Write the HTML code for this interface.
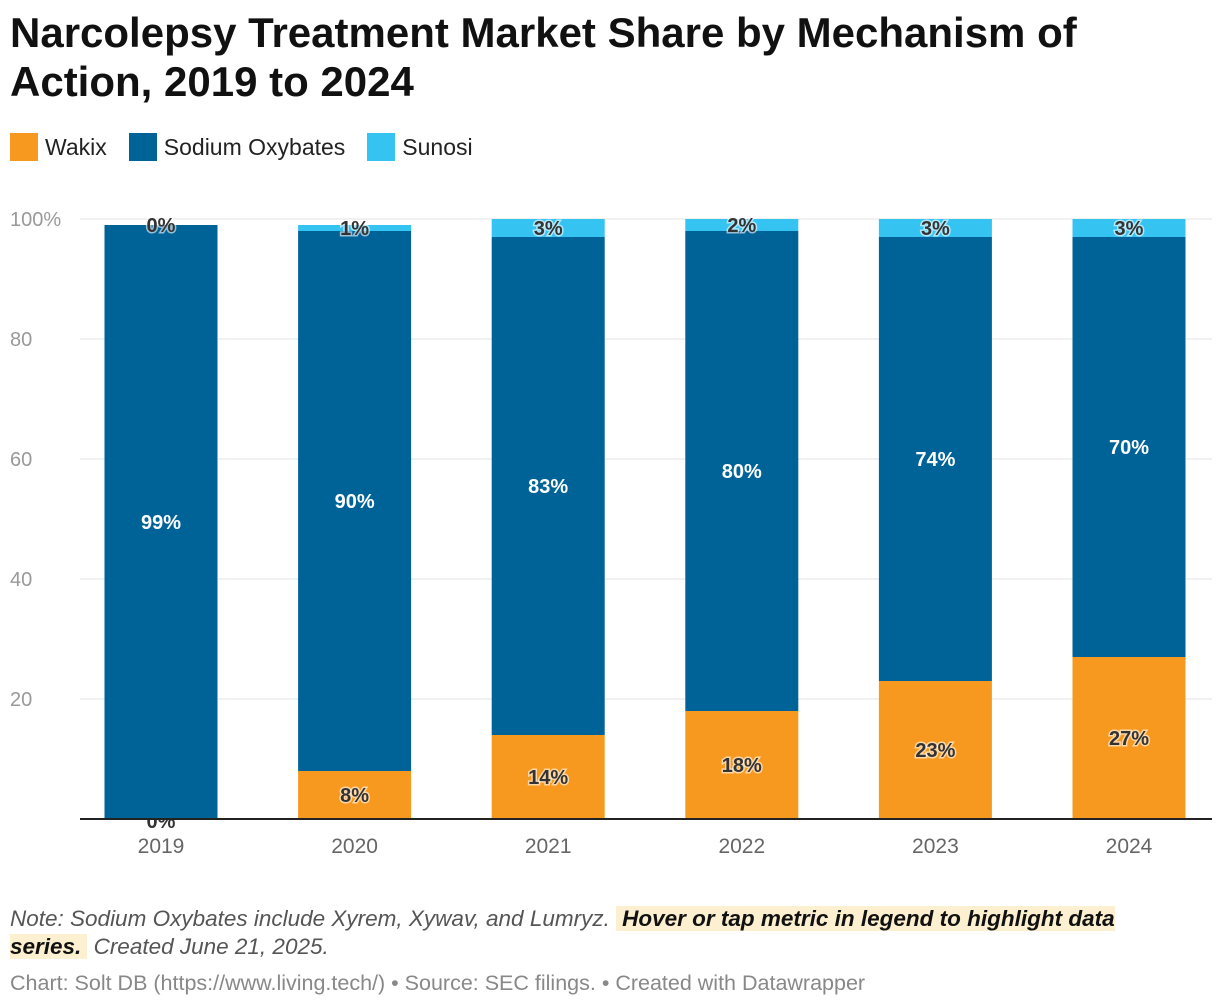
<!DOCTYPE html>
<html><head><meta charset="utf-8">
<style>
body{margin:0;background:#fff;font-family:"Liberation Sans",Arial,sans-serif;width:1220px;height:1008px;overflow:hidden;position:relative}
.title{position:absolute;left:10px;top:8px;font-size:42px;font-weight:bold;line-height:49px;color:#111;letter-spacing:0px}
.legend{position:absolute;left:10px;top:133px;font-size:23px;color:#222;display:flex;gap:22px}
.li{display:flex;align-items:center;gap:7px}
.sw{width:28px;height:28px;display:inline-block}
.note{position:absolute;left:10px;top:905px;font-size:22.5px;font-style:italic;color:#555;line-height:28px;width:1130px}
.hl{background:#fdf0d0;color:#111;font-weight:bold;padding:0 6px}
.foot{position:absolute;left:10px;top:971px;font-size:21.5px;color:#888}
</style></head><body>
<div class="title">Narcolepsy Treatment Market Share by Mechanism of<br>Action, 2019 to 2024</div>
<div class="legend">
<div class="li"><span class="sw" style="background:#f7991f"></span>Wakix</div>
<div class="li"><span class="sw" style="background:#006398"></span>Sodium Oxybates</div>
<div class="li"><span class="sw" style="background:#35c3f2"></span>Sunosi</div>
</div>
<svg id="chart" width="1220" height="1008" style="position:absolute;left:0;top:0"></svg>
<div class="note">Note: Sodium Oxybates include Xyrem, Xywav, and Lumryz. <span class="hl">Hover or tap metric in legend to highlight data series.</span> Created June 21, 2025.</div>
<div class="foot">Chart: Solt DB (https://www.living.tech/) • Source: SEC filings. • Created with Datawrapper</div>
<script>
const years=["2019","2020","2021","2022","2023","2024"];
const wakix=[0,8,14,18,23,27];
const sodium=[99,90,83,80,74,70];
const sunosi=[0,1,3,2,3,3];
const yTicks=[0,20,40,60,80,100];
const yTickLabels=["","20","40","60","80","100%"];
const svg=document.getElementById('chart');
const NS="http://www.w3.org/2000/svg";
const x0=80,x1=1212,yTop=219,yBot=819;
const y=v=>yBot-(v/100)*(yBot-yTop);
const step=193.6;
const bw=113;
const xc=i=>161+step*i;
function mk(t,a){const e=document.createElementNS(NS,t);for(const k in a)e.setAttribute(k,a[k]);svg.appendChild(e);return e;}
yTicks.forEach((t,i)=>{
  if(t>0){const l=mk('line',{x1:x0,x2:x1,y1:y(t),y2:y(t),stroke:'#e3e3e3','stroke-width':1});
  
  }
  const tx=mk('text',{x:10,y:y(t)+7,'font-size':20,fill:'#999'});tx.textContent=yTickLabels[i];
  
  
});
const series=[[wakix,'#f7991f','wakix','#333'],[sodium,'#006398','sodium-oxybates','#fff'],[sunosi,'#35c3f2','sunosi','#333']];
years.forEach((yr,i)=>{
  let base=0;const cx=xc(i);
  series.forEach(([arr,col,nm,tc])=>{
    const v=arr[i];
    const r=mk('rect',{x:cx-bw/2,y:y(base+v),width:bw,height:y(base)-y(base+v),fill:col});
    
    
    let ly=y(base+v/2)+7;
    if(v===0&&nm==='wakix')ly+=2;
    const t=mk('text',{x:cx,y:ly,'text-anchor':'middle','font-size':20,'font-weight':'bold',fill:tc});
    if(tc==='#333'){t.setAttribute('stroke','rgba(255,255,255,0.6)');t.setAttribute('stroke-width','3');t.setAttribute('paint-order','stroke');}
    t.textContent=v+'%';
    
    
    base+=v;
  });
  const xl=mk('text',{x:cx,y:yBot+34,'text-anchor':'middle','font-size':21,fill:'#666'});xl.textContent=yr;
  
  
});
const ax=mk('line',{x1:x0,x2:x1,y1:yBot,y2:yBot,stroke:'#222','stroke-width':2});


</script>
</body></html>
